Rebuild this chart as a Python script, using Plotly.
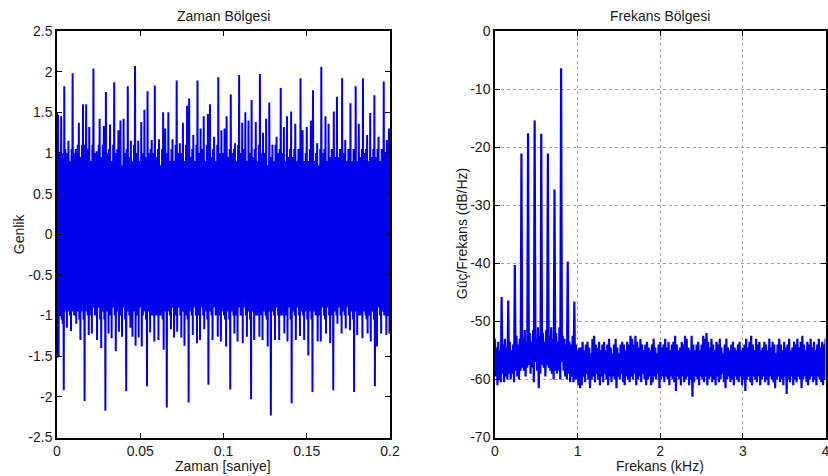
import plotly.graph_objects as go

# ---------------- data ----------------
# time-domain signal: per sample step, the high and the low value
t_step = 0.000625  # s
sig_top = [
    1.5, 1.47, 0.7, 1.0, 1.45, 1.0, 0.55, 1.82, 1.05, 0.6, 1.0, 1.15, 0.9, 0.35, 1.05, 1.98, 1.0, 0.6, 1.05, 0.75,
    1.1, 1.37, 0.95, 0.5, 1.1, 1.6, 0.95, 1.1, 1.6, 0.25, 1.05, 1.32, 0.9, 0.6, 1.1, 2.04, 1.0, 0.5, 1.02, 0.8,
    1.1, 1.42, 0.95, 0.55, 1.1, 1.33, 0.9, 1.75, 1.0, 0.45, 1.05, 1.35, 0.9, 0.6, 1.1, 1.87, 1.0, 0.5, 1.05, 1.28,
    0.95, 1.4, 0.85, 0.55, 1.42, 1.0, 0.7, 1.05, 1.82, 0.95, 0.6, 1.15, 0.9, 0.45, 1.1, 2.07, 1.0, 0.55, 1.15, 0.9,
    0.6, 1.38, 1.0, 0.9, 1.53, 0.95, 0.6, 1.76, 1.0, 0.45, 1.05, 1.16, 0.9, 1.0, 1.83, 0.95, 0.5, 1.05, 1.17, 0.85,
    0.55, 1.05, 1.5, 0.95, 1.3, 0.8, 1.0, 1.5, 0.9, 0.5, 1.05, 1.17, 0.9, 0.6, 1.1, 1.89, 1.0, 0.55, 1.12, 0.85,
    1.0, 1.37, 0.9, 0.45, 1.1, 1.58, 1.0, 1.67, 0.95, 0.55, 1.05, 1.22, 0.9, 0.6, 1.1, 1.89, 1.0, 0.5, 1.3, 0.9,
    1.05, 1.45, 0.9, 0.55, 1.1, 1.48, 1.0, 1.6, 0.95, 0.4, 1.05, 1.2, 0.9, 0.6, 1.1, 1.93, 1.0, 0.55, 1.28, 0.9,
    1.0, 1.3, 0.85, 1.45, 0.95, 0.5, 1.05, 1.72, 1.0, 0.6, 1.05, 1.12, 0.9, 0.45, 1.1, 1.96, 1.0, 0.55, 1.37, 0.9,
    1.05, 1.5, 0.9, 0.6, 1.4, 1.0, 0.9, 1.65, 0.95, 0.5, 1.05, 1.38, 0.9, 0.6, 1.1, 1.97, 1.0, 0.55, 1.25, 0.9,
    1.0, 1.42, 0.85, 0.5, 1.62, 0.95, 0.6, 1.1, 0.9, 0.45, 1.1, 1.2, 1.0, 0.55, 1.05, 1.8, 1.0, 0.5, 1.32, 0.9,
    0.6, 1.45, 0.95, 0.55, 1.05, 1.51, 0.95, 0.5, 1.05, 1.36, 0.9, 0.45, 1.05, 1.0, 1.92, 1.0, 1.28, 0.9, 0.55, 1.0,
    1.32, 0.9, 0.5, 1.05, 1.4, 0.95, 1.77, 0.9, 0.55, 1.0, 1.12, 0.85, 0.5, 1.05, 2.06, 1.0, 0.6, 1.05, 1.45, 0.9,
    0.55, 1.36, 0.95, 0.6, 1.05, 0.9, 1.51, 0.95, 0.5, 1.69, 0.95, 0.55, 1.05, 1.0, 1.92, 1.0, 0.55, 1.16, 0.9, 0.5,
    1.05, 1.0, 1.61, 0.9, 0.55, 1.05, 1.0, 1.82, 0.9, 0.5, 1.36, 0.95, 0.6, 1.05, 1.92, 1.0, 0.55, 1.05, 1.22, 0.9,
    0.5, 1.49, 0.95, 0.6, 1.05, 1.71, 0.95, 0.55, 1.05, 1.2, 0.9, 0.5, 1.05, 1.0, 1.88, 1.0, 0.55, 1.16, 0.95, 1.3,
]
sig_bot = [
    -1.52, -1.5, -1.0, -0.5, -1.05, -1.1, -1.92, -0.95, -0.7, -1.15, -0.95, -0.6, -1.0, -1.19, -0.95, -0.7, -1.0, -0.9, -1.1, -0.95,
    -0.55, -1.05, -1.3, -0.95, -0.6, -1.05, -2.05, -0.95, -0.55, -1.0, -1.24, -0.9, -1.0, -1.22, -0.9, -0.6, -1.0, -0.95, -1.3, -0.9,
    -0.5, -1.05, -1.4, -0.95, -0.6, -1.05, -2.17, -0.95, -0.5, -1.22, -0.9, -1.0, -1.28, -0.9, -0.55, -1.0, -1.44, -0.95, -0.6, -1.2,
    -0.95, -1.0, -1.26, -0.9, -0.55, -1.05, -1.93, -0.95, -0.6, -1.0, -1.15, -0.9, -1.26, -0.95, -0.6, -1.37, -0.95, -1.0, -1.27, -0.9,
    -0.55, -1.38, -1.0, -0.95, -0.6, -1.05, -1.87, -0.95, -0.5, -1.21, -0.95, -1.0, -0.6, -1.32, -0.95, -1.0, -0.55, -1.3, -0.95, -1.0,
    -0.6, -1.05, -1.42, -0.95, -0.7, -2.13, -0.95, -0.55, -1.0, -1.17, -0.9, -0.6, -1.27, -0.95, -1.0, -1.2, -0.9, -0.55, -1.0, -1.27,
    -0.95, -0.6, -1.37, -1.0, -0.95, -1.05, -2.07, -0.95, -0.55, -1.0, -1.24, -0.9, -0.6, -1.0, -1.34, -0.95, -1.0, -1.3, -0.9, -0.55,
    -1.0, -1.17, -0.95, -0.6, -1.05, -1.85, -0.95, -0.55, -1.0, -1.3, -0.9, -0.6, -1.0, -0.95, -1.26, -0.9, -1.0, -1.32, -0.95, -0.55,
    -1.0, -1.05, -1.38, -0.95, -0.6, -1.05, -1.91, -0.95, -0.55, -1.0, -1.22, -0.9, -1.0, -1.32, -0.9, -0.6, -1.0, -0.95, -1.34, -0.9,
    -0.55, -1.0, -1.26, -0.95, -0.6, -1.05, -2.03, -0.95, -0.6, -1.3, -0.95, -1.0, -0.55, -1.0, -1.26, -0.9, -1.0, -1.3, -0.95, -0.6,
    -1.0, -1.05, -1.38, -0.95, -0.6, -2.23, -0.95, -0.55, -1.0, -1.3, -0.9, -0.6, -1.0, -1.3, -0.95, -1.0, -0.55, -1.0, -1.22, -0.95,
    -1.0, -1.32, -0.9, -0.6, -1.05, -2.08, -0.95, -0.55, -1.0, -1.3, -0.9, -0.6, -1.0, -1.25, -0.95, -0.55, -1.0, -1.3, -0.95, -0.6,
    -1.05, -1.49, -0.95, -0.6, -1.05, -1.94, -0.95, -0.55, -1.0, -0.95, -1.32, -0.9, -1.0, -1.32, -0.9, -0.55, -1.0, -1.05, -1.22, -0.9,
    -0.6, -1.0, -1.34, -0.95, -1.0, -1.92, -0.95, -0.55, -1.0, -1.1, -0.9, -0.6, -1.0, -1.22, -0.95, -0.55, -1.0, -1.16, -0.9, -0.6,
    -1.0, -1.18, -0.95, -0.55, -1.05, -1.94, -0.95, -0.6, -1.24, -0.9, -1.0, -0.55, -1.0, -1.28, -0.95, -0.6, -1.0, -1.05, -1.22, -0.9,
    -1.0, -1.32, -0.95, -0.55, -1.05, -1.87, -1.0, -1.38, -0.9, -0.6, -1.0, -1.22, -0.95, -0.55, -1.0, -0.95, -1.24, -0.9, -1.0, -1.22,
]

# power spectral density: per frequency bin (kHz), the high and low dB value
f_step = 0.02  # kHz
psd_top = [
    -53, -54.5, -53.5, -55, -45.8, -54, -53, -54.5, -46.4, -53.5, -55, -54, -40.3, -52.5, -54, -53,
    -21.1, -53, -51.5, -53.5, -17.6, -52, -53.5, -51.5, -15.4, -53, -51, -52.5, -17.7, -52, -53.5, -51.5,
    -21.1, -52.5, -51, -53, -27.3, -52, -53.5, -51, -6.4, -52.5, -53, -54, -39.7, -53.5, -54, -52.5,
    -46.6, -54, -55, -54.5,
    -54.5, -53.5, -55, -54, -53.5, -54.5, -55.5, -53, -52.5, -54,
    -54.5, -53.5, -55, -54, -53.5, -55, -54, -53, -54.5, -55.5,
    -54, -53, -54.5, -55.5, -54, -53.5, -54, -55, -53.5, -54,
    -52.5, -53, -54, -52.5, -53.5, -54.5, -53, -54, -55, -54,
    -53.5, -54.5, -55, -54, -53, -54.5, -55.5, -54, -53.5, -54.5,
    -54, -53, -54.5, -53.5, -55, -54, -53.5, -52.5, -54, -55,
    -54.5, -53.5, -54, -52.5, -53, -54.5, -55, -52.5, -54, -55,
    -54, -53.5, -55, -54, -52.5, -53, -52, -53.5, -54.5, -53,
    -54, -55, -53.5, -54, -53, -54.5, -55.5, -54, -53, -54.5,
    -55, -54, -53.5, -54.5, -55, -54, -53.5, -55, -54.5, -54,
    -53, -54.5, -53.5, -52.5, -54, -55, -53, -54, -53.5, -55,
    -54.5, -53.5, -54, -55, -53, -54.5, -53.5, -54, -55.5, -54,
    -53, -54, -55, -53.5, -54.5, -54, -53, -55, -54.5, -53.5,
    -54, -53, -54.5, -53.5, -52.5, -54, -55, -53.5, -54, -53,
    -54.5, -53.5, -55, -54, -53, -54.5, -53.5, -54, -53,
]
psd_bot = [
    -59.5, -61, -60, -60.5, -59, -60.5, -59.5, -60, -59, -60, -59, -60.5, -58.5, -59.5, -60, -58.5,
    -58, -58.5, -59.5, -58, -57.5, -59, -58, -60.5, -57, -58.5, -61.5, -59, -57.5, -58, -59.5, -57.5,
    -58, -58.5, -59, -60, -58.5, -59, -58.5, -60, -57, -58.5, -59.5, -60, -59, -60.5, -59.5, -60.5,
    -60, -60, -61, -61.5,
    -61, -59.5, -60.5, -59, -60, -61.5, -60, -59.5, -60.5, -59,
    -60, -61, -59.5, -60.5, -59, -60, -61, -59.5, -60.5, -59.5,
    -60, -61.5, -59.5, -60, -59, -60.5, -61, -59.5, -60, -60.5,
    -59.5, -60, -59, -61, -60, -59.5, -60.5, -59, -60, -61,
    -60, -59.5, -61, -60.5, -59.5, -60, -59, -61.5, -60, -59.5,
    -60.5, -59.5, -60, -61, -59.5, -60, -60.5, -62, -59.5, -60,
    -61, -59.5, -60.5, -60, -59.5, -61, -60, -63, -60.5, -59.5,
    -60, -61, -59.5, -60, -60.5, -59.5, -61, -60, -59.5, -60.5,
    -60, -61, -59.5, -60.5, -60, -59, -60.5, -61.5, -60, -59.5,
    -60.5, -60, -61, -59.5, -60, -60.5, -59.5, -61, -60, -62,
    -60, -59.5, -60.5, -61, -59.5, -60, -60.5, -59.5, -61, -60,
    -59.5, -60.5, -60, -61, -59.5, -60, -60.5, -61.5, -60, -59.5,
    -60.5, -60, -61, -59.5, -62.5, -60, -60.5, -59.5, -61, -60,
    -60.5, -59.5, -60, -61.5, -60, -59.5, -60.5, -61, -60, -59.5,
    -60.5, -60, -61, -59.5, -60, -60.5, -61, -60, -59.5,
]

t_ticks = [0, 0.05, 0.1, 0.15, 0.2]
t_ticktext = ["0", "0.05", "0.1", "0.15", "0.2"]
amp_ticks = [-2.5, -2, -1.5, -1, -0.5, 0, 0.5, 1, 1.5, 2, 2.5]
amp_ticktext = ["-2.5", "-2", "-1.5", "-1", "-0.5", "0", "0.5", "1", "1.5", "2", "2.5"]
f_ticks = [0, 1, 2, 3, 4]
f_ticktext = ["0", "1", "2", "3", "4"]
db_ticks = [-70, -60, -50, -40, -30, -20, -10, 0]
db_ticktext = ["-70", "-60", "-50", "-40", "-30", "-20", "-10", "0"]

# ---------------- build traces ----------------
tx, ty = [], []
for j, (hi, lo) in enumerate(zip(sig_top, sig_bot)):
    tx += [j * t_step, j * t_step + t_step / 2]
    ty += [hi, lo]

fx, fy = [], []
for j, (hi, lo) in enumerate(zip(psd_top, psd_bot)):
    fx += [j * f_step, j * f_step + f_step / 2]
    fy += [hi, lo]

BLUE = "#0000ee"
FONT = "Liberation Sans, Arial, sans-serif"
TXT = "#1a1a1a"

fig = go.Figure()
fig.add_trace(go.Scatter(x=tx, y=ty, mode="lines", xaxis="x", yaxis="y",
                         line=dict(color=BLUE, width=2.0, simplify=False), hoverinfo="skip"))
fig.add_trace(go.Scatter(x=fx, y=fy, mode="lines", xaxis="x2", yaxis="y2",
                         line=dict(color=BLUE, width=2.2, simplify=False), hoverinfo="skip"))

W, H = 828, 476
L_dom = [57 / W, 390 / W]
R_dom = [495 / W, 825.5 / W]
Y_dom = [38.5 / H, 445 / H]

axis_common = dict(showline=True, linecolor="black", linewidth=1.5, mirror="ticks",
                   ticks="inside", ticklen=5, tickwidth=1.3, tickcolor="black",
                   tickfont=dict(family=FONT, size=14, color=TXT), zeroline=False,
                   automargin=False, ticklabeloverflow="allow")

fig.update_layout(
    template="none",
    width=W, height=H, margin=dict(l=0, r=0, t=0, b=0, autoexpand=False),
    paper_bgcolor="white", plot_bgcolor="white", showlegend=False,
    xaxis=dict(domain=L_dom, anchor="y", range=[0, 0.2], tickmode="array",
               tickvals=t_ticks, ticktext=t_ticktext, showgrid=False, **axis_common),
    yaxis=dict(domain=Y_dom, anchor="x", range=[-2.5, 2.5], tickmode="array",
               tickvals=amp_ticks, ticktext=amp_ticktext, showgrid=False, **axis_common),
    xaxis2=dict(domain=R_dom, anchor="y2", range=[0, 4], tickmode="array",
                tickvals=f_ticks, ticktext=f_ticktext, showgrid=True, gridcolor="#a0a0a0",
                griddash="dot", gridwidth=1, **axis_common),
    yaxis2=dict(domain=Y_dom, anchor="x2", range=[-70, 0], tickmode="array",
                tickvals=db_ticks, ticktext=db_ticktext, showgrid=True, gridcolor="#a0a0a0",
                griddash="dot", gridwidth=1, **axis_common),
)

def ann(text, x, y, angle=0):
    fig.add_annotation(text=text, x=x, y=y, xref="paper", yref="paper", showarrow=False,
                       xanchor="center", yanchor="middle", textangle=angle,
                       font=dict(family=FONT, size=14, color=TXT))

lc = (L_dom[0] + L_dom[1]) / 2
rc = (R_dom[0] + R_dom[1]) / 2
ymid = (Y_dom[0] + Y_dom[1]) / 2
ann("Zaman Bölgesi", lc, 1 - 16 / H)
ann("Frekans Bölgesi", rc, 1 - 16 / H)
ann("Zaman [saniye]", lc, 1 - 466 / H)
ann("Frekans (kHz)", rc, 1 - 466 / H)
ann("Genlik", 19 / W, ymid, -90)
ann("Güç/Frekans (dB/Hz)", 462 / W, ymid, -90)

fig.write_html("out.html")
